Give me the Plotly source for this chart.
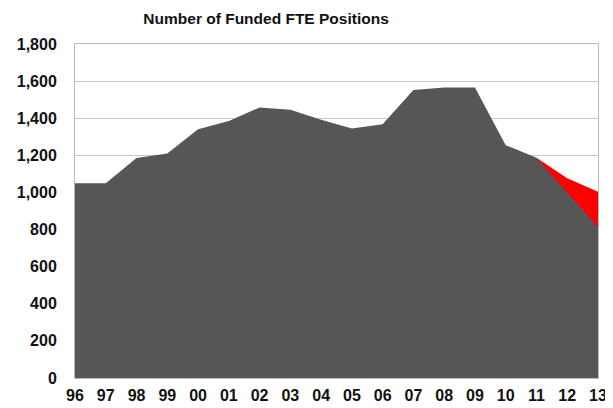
import plotly.graph_objects as go

years = ["96", "97", "98", "99", "00", "01", "02", "03", "04", "05",
         "06", "07", "08", "09", "10", "11", "12", "13"]
funded = [1050, 1050, 1185, 1210, 1340, 1385, 1458, 1445, 1392, 1345,
          1368, 1552, 1566, 1566, 1255, 1187, 1000, 815]
red_years = ["11", "12", "13"]
red_upper = [1187, 1076, 1004]

x_all = list(range(len(years)))
x_red = [years.index(y) for y in red_years]

fig = go.Figure()
fig.add_trace(go.Scatter(x=x_red, y=red_upper, mode="lines", fill="tozeroy",
                         line=dict(color="#ff0000", width=0), fillcolor="#ff0000",
                         hoverinfo="skip", showlegend=False))
fig.add_trace(go.Scatter(x=x_all, y=funded, mode="lines", fill="tozeroy",
                         line=dict(color="#565656", width=0), fillcolor="#565656",
                         showlegend=False))

font_family = "Liberation Sans, Arial, sans-serif"
fig.update_layout(
    width=613, height=408,
    margin=dict(l=67, r=23, t=36, b=38),
    paper_bgcolor="white", plot_bgcolor="white",
    title=dict(text="<b>Number of Funded FTE Positions</b>", x=0.421, xref="container",
               xanchor="center", y=0.975, yanchor="middle", automargin=False,
               font=dict(family=font_family, size=15.5, color="#111")),
    xaxis=dict(range=[0, len(years) - 1], tickmode="array", tickvals=x_all,
               ticktext=["<b>%s</b>" % y for y in years], showgrid=False,
               zeroline=False, showline=True, linecolor="#bbbbbb", mirror=True,
               automargin=False, ticklabelstandoff=3,
               ticks="", tickfont=dict(family=font_family, size=16, color="#111")),
    yaxis=dict(range=[0, 1800], tickmode="array", tickvals=list(range(0, 1801, 200)),
               ticktext=["<b>{:,}</b>".format(v) for v in range(0, 1801, 200)],
               showgrid=True, gridcolor="#c8c8c8", gridwidth=1, automargin=False,
               zeroline=False, showline=True, linecolor="#bbbbbb", mirror=True,
               ticklabelstandoff=14,
               ticks="", ticklen=0, tickfont=dict(family=font_family, size=16, color="#111")),
)

fig.write_html("out.html")
